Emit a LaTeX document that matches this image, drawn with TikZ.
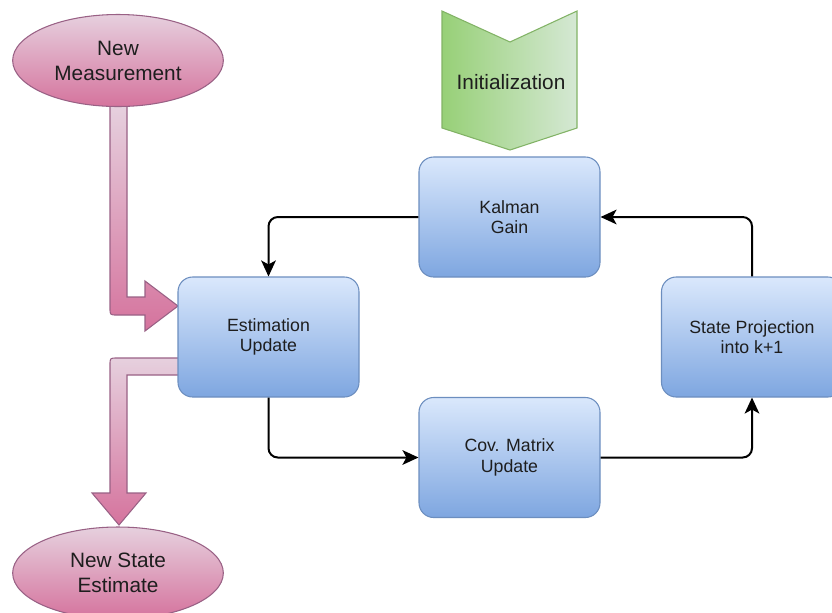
\documentclass[tikz,border=0pt]{standalone}
\usepackage{fontspec}
\setmainfont{Liberation Sans}
\usetikzlibrary{shapes.geometric,arrows.meta}

\definecolor{pinktop}{HTML}{E6D0DE}
\definecolor{pinkbot}{HTML}{D5739D}
\definecolor{pinkline}{HTML}{996185}
\definecolor{bluetop}{HTML}{DAE8FC}
\definecolor{bluebot}{HTML}{7EA6E0}
\definecolor{blueline}{HTML}{6C8EBF}
\definecolor{greenlight}{HTML}{D5E8D4}
\definecolor{greendark}{HTML}{97D077}
\definecolor{greenline}{HTML}{82B366}
\definecolor{ink}{HTML}{1E1E1E}

\tikzset{
  stepbox/.style={rectangle, rounded corners=11pt, draw=blueline, line width=0.8pt,
    top color=bluetop, bottom color=bluebot, minimum width=135.75pt,
    minimum height=90pt, inner sep=0pt, align=center, text=ink,
    font=\fontsize{13.3}{15.5}\selectfont},
  blob/.style={ellipse, draw=pinkline, line width=0.8pt,
    top color=pinktop, bottom color=pinkbot, minimum width=158pt,
    minimum height=69pt, inner sep=0pt, align=center, text=ink,
    font=\fontsize{15.6}{18.8}\selectfont},
  fatarrow/.style={draw=pinkline, line width=0.8pt, top color=pinktop,
    bottom color=pinkbot},
  conn/.style={line width=1.5pt, rounded corners=7pt,
    -{Stealth[length=12pt,width=11pt,inset=3pt]}},
}

\begin{document}
\begin{tikzpicture}[x=0.75pt,y=-0.75pt]
\useasboundingbox (0,0) rectangle (832,612);

% measurement feed into the estimation step
\path[fatarrow] (110,106) -- (110,308) .. controls (110,315) .. (117,315)
  -- (145,315) -- (145,331) -- (178,306) -- (145,281) -- (145,297)
  -- (127,297) -- (127,106) -- cycle;

% estimate output down to the result
\path[fatarrow] (180,358) -- (117,358) .. controls (110,358) .. (110,365)
  -- (110,493) -- (92,493) -- (119,525) -- (146,493) -- (127,493)
  -- (127,375) -- (180,375) -- cycle;

% initialization marker
\path[draw=greenline, line width=0.8pt, left color=greendark, right color=greenlight]
  (442,11) -- (510,42) -- (577,11) -- (577,128) -- (510,150) -- (442,128) -- cycle;
\node[text=ink, font=\fontsize{15.6}{18.8}\selectfont] (init) at (511,82) {Initialization};

% end points
\node[blob] (nm) at (118,60.5) {New\\Measurement};
\node[blob] (ns) at (118,573) {New State\\Estimate};

% filter steps
\node[stepbox] (kg) at (509.5,217) {Kalman\\Gain};
\node[stepbox] (eu) at (268.5,337) {Estimation\\Update};
\node[stepbox] (cov) at (509.5,457.5) {Cov. Matrix\\Update};
\node[stepbox] (sp) at (752,337) {State Projection\\into k+1};

% update cycle
\draw[conn] (kg.west) -| (eu.north);
\draw[conn] (eu.south) |- (cov.west);
\draw[conn] (cov.east) -| (sp.south);
\draw[conn] (sp.north) |- (kg.east);
\end{tikzpicture}
\end{document}
